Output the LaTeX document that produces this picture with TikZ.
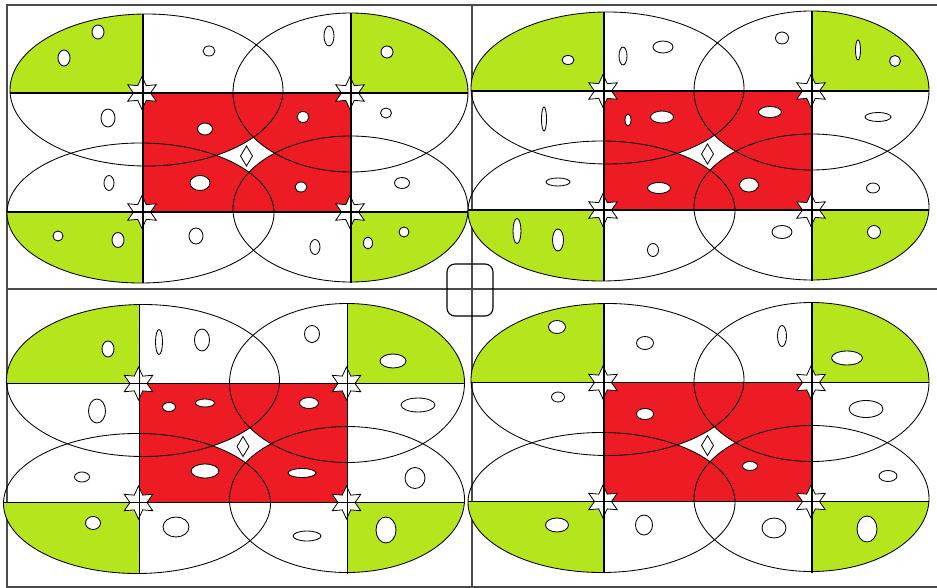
\documentclass[tikz,border=0pt]{standalone}
\definecolor{pred}{HTML}{ED1C24}
\definecolor{pgreen}{HTML}{B5E61D}
\definecolor{framec}{HTML}{4A4A4A}
\tikzset{
  hole/.style={draw=black, fill=white, line width=0.85pt},
  ell/.style={draw=black, line width=0.85pt},
  crossl/.style={draw=black, line width=1.25pt},
  starst/.style={draw=black, fill=white, line width=0.8pt},
  framel/.style={draw=framec, line width=1.5pt},
  kite/.style={draw=black, line width=0.8pt}
}
\def\eUL{(146.5,90) ellipse [x radius=136.5pt, y radius=76pt]}
\def\eUR{(350.5,92.5) ellipse [x radius=117.5pt, y radius=79.5pt]}
\def\eLL{(140.5,213) ellipse [x radius=133.5pt, y radius=70pt]}
\def\eLR{(350.5,209) ellipse [x radius=117.5pt, y radius=73pt]}
\newcommand\hexstar[2]{\draw[starst, shift={(#1,#2)}] (90:16.5pt) -- (120:8.5pt) -- (150:16.5pt) -- (180:8.5pt) -- (210:16.5pt) -- (240:8.5pt) -- (270:16.5pt) -- (300:8.5pt) -- (330:16.5pt) -- (0:8.5pt) -- (30:16.5pt) -- (60:8.5pt) -- cycle;}
\newcommand\mypanel[2]{%
\begin{scope}[shift={(#1,#2)}]
  \begin{scope}\clip (0,0) rectangle (143,93); \fill[pgreen] \eUL; \end{scope}
  \begin{scope}\clip (351,0) rectangle (480,93); \fill[pgreen] \eUR; \end{scope}
  \begin{scope}\clip (0,212) rectangle (143,300); \fill[pgreen] \eLL; \end{scope}
  \begin{scope}\clip (351,212) rectangle (480,300); \fill[pgreen] \eLR; \end{scope}
  \begin{scope}\clip (143,93) rectangle (351,212); \fill[pred] \eUL \eUR \eLL \eLR; \end{scope}
  \path[ell] \eUL; \path[ell] \eUR; \path[ell] \eLL; \path[ell] \eLR;
  \draw[kite] (246.5,146) -- (252.5,156) -- (246.5,166) -- (240.5,156) -- cycle;
  \hexstar{142}{93}\hexstar{350}{93}\hexstar{142}{212}\hexstar{350}{212}
  \draw[crossl] (10,93) -- (468,93);
  \draw[crossl] (7,212) -- (468,212);
  \draw[crossl] (143,14) -- (143,283);
  \draw[crossl] (351,13) -- (351,283);
\end{scope}}
\begin{document}
\begin{tikzpicture}[x=1pt,y=-1pt]
\useasboundingbox (0,0) rectangle (937,588);
\fill[white] (0,0) rectangle (937,588);
% frame and dividers
\draw[framel] (937,5) -- (7,5) -- (7,587) -- (937,587);
\draw[framel] (472,5) -- (472,587);
\draw[framel] (7,289) -- (937,289);
\draw[draw=black, line width=1.1pt, rounded corners=8pt] (447,264) rectangle (493,316);
% panels
\mypanel{0}{0}
\mypanel{461}{-2}
\mypanel{-3.5}{290.5}
\mypanel{461}{289.5}
% holes
\foreach \x/\y/\a/\b in {98/32/6/7,64/58/6/8,209/51/6/5,329/36/5/10,387/52/6/6,108/118/7/9,205/129/7.5/6,303/117/6/5.5,386/113/5.5/5,109/183/5/7.5,200/183/10/7.5,301/187/6/5,402/183/7.5/5.5,58/236/5/5,118/240/6/7.5,196/236/7/8,315/247/5/7.5,368/243/4.5/6,404/232/5/5,
568/60/6/4.5,623/56/4/9,663/47/10/6,782/38/6.5/6,858/50/2.5/10,895/61/5.5/5.5,544/119/2.5/12,628/120/3/6,662/117/11.5/6,770/112/11.5/5.5,878/117/13/4.5,558/182/12/4,659/188/11.5/5.5,749/185/9.5/7,873/188/6.5/5,517/231/4/12.5,558/240/5.5/11,653/250/5.5/6.5,782/232/10/6.5,874/232/6.5/6.5,
108/349/6/8,159/342/3.5/12.5,202/340/7.5/11,312/334/7.5/8.5,393/361/13/7,97/411/8.5/12,169/407/6.5/4.5,205/403/9.5/4,309/403/9.5/5.5,418/405/17/7,82/477/7.5/5,205/471/14/7,302/473/14/4.5,415/478/10/10.5,93/523/7.5/6.5,176/527/13/10,307/536/14/5,386/530/10/13,
557/327/8.5/6.5,645/343/8.5/6.5,782/336/4.5/10.5,847/358/15.5/7,558/397/6.5/5,645/414/8.5/5.5,866/409/17/8.5,750/466/7.5/4.5,888/476/9/5.5,557/525/11.5/7,644/525/8.5/10,774/528/12/10,867/529/10/13}
  \path[hole] (\x,\y) ellipse [x radius=\a pt, y radius=\b pt];
\end{tikzpicture}
\end{document}
